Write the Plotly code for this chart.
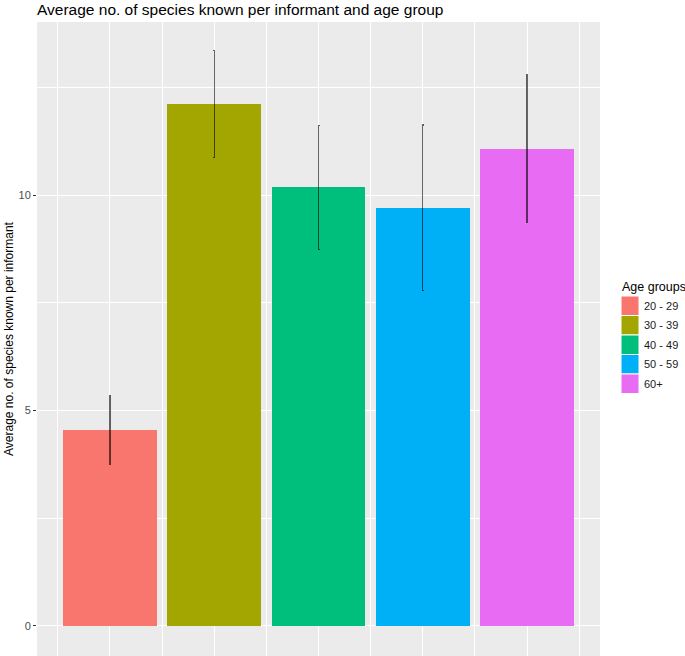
import plotly.graph_objects as go

age_groups = ["20 - 29", "30 - 39", "40 - 49", "50 - 59", "60+"]
mean_species = [4.55, 12.12, 10.18, 9.71, 11.08]
error_half = [0.80, 1.24, 1.44, 1.92, 1.71]
colors = ["#F8766D", "#A3A500", "#00BF7D", "#00B0F6", "#E76BF3"]
legend_title = "Age groups"

positions = list(range(1, len(age_groups) + 1))

W, H = 685, 656
ML, MR, MT, MB = 37, 85, 22, 0
PW, PH = W - ML - MR, H - MT - MB


def px_x(px):
    return (px - ML) / PW


def px_y(py):
    return (H - MB - py) / PH


fig = go.Figure()
for pos, grp, val, err, col in zip(positions, age_groups, mean_species, error_half, colors):
    fig.add_trace(go.Bar(
        x=[pos], y=[val], width=0.9, name=grp,
        marker=dict(color=col, line=dict(width=0)),
        error_y=dict(type="data", array=[err], visible=True,
                     color="rgba(0,0,0,0.6)", thickness=1.3, width=1),
        showlegend=False,
    ))

# legend (ggplot style keys) drawn in the right margin
key_x0, key_x1 = 621, 639
key_top, key_h = 296, 19.5
shapes = []
annotations = [dict(text=legend_title, xref="paper", yref="paper",
                    x=px_x(620), y=px_y(287), xanchor="left", yanchor="middle",
                    showarrow=False, font=dict(size=12.5, color="black"))]
for i, (grp, col) in enumerate(zip(age_groups, colors)):
    y0 = key_top + i * key_h
    shapes.append(dict(type="rect", xref="paper", yref="paper",
                       x0=px_x(key_x0), x1=px_x(key_x1),
                       y0=px_y(y0), y1=px_y(y0 + key_h),
                       fillcolor=col, line=dict(color="white", width=1), layer="above"))
    annotations.append(dict(text=grp, xref="paper", yref="paper",
                            x=px_x(642), y=px_y(y0 + key_h / 2),
                            xanchor="left", yanchor="middle", showarrow=False,
                            font=dict(size=11, color="#1A1A1A")))

fig.update_layout(
    width=W, height=H,
    margin=dict(l=ML, r=MR, t=MT, b=MB),
    paper_bgcolor="white", plot_bgcolor="#EBEBEB",
    font=dict(family="Liberation Sans, Arial, sans-serif", color="black"),
    title=dict(text="Average no. of species known per informant and age group",
               x=37 / W, xanchor="left", xref="container",
               y=1 - 10 / H, yanchor="middle", yref="container",
               font=dict(size=15.5, color="black")),
    bargap=0,
    showlegend=False,
    shapes=shapes,
    annotations=annotations,
    xaxis=dict(
        range=[0.3, 5.7], tickvals=positions, ticktext=age_groups,
        showticklabels=False,
        showgrid=True, gridcolor="white", gridwidth=1.2,
        minor=dict(dtick=1, tick0=0.5, showgrid=True, gridcolor="white", gridwidth=0.6),
        zeroline=False, showline=False, ticks="",
        automargin=False,
    ),
    yaxis=dict(
        range=[-0.70, 14.02], tickvals=[0, 5, 10],
        showgrid=True, gridcolor="white", gridwidth=1.2,
        minor=dict(dtick=2.5, tick0=0, showgrid=True, gridcolor="white", gridwidth=0.6),
        zeroline=False, showline=False,
        ticks="outside", ticklen=3, tickcolor="#333333",
        tickfont=dict(size=11, color="#4D4D4D"), automargin=False,
        title=dict(text="Average no. of species known per informant",
                   font=dict(size=12, color="black"), standoff=2),
    ),
)

fig.write_html("out.html", config={"displayModeBar": False},
               post_script="document.body.style.margin='0';document.body.style.overflow='hidden';")
